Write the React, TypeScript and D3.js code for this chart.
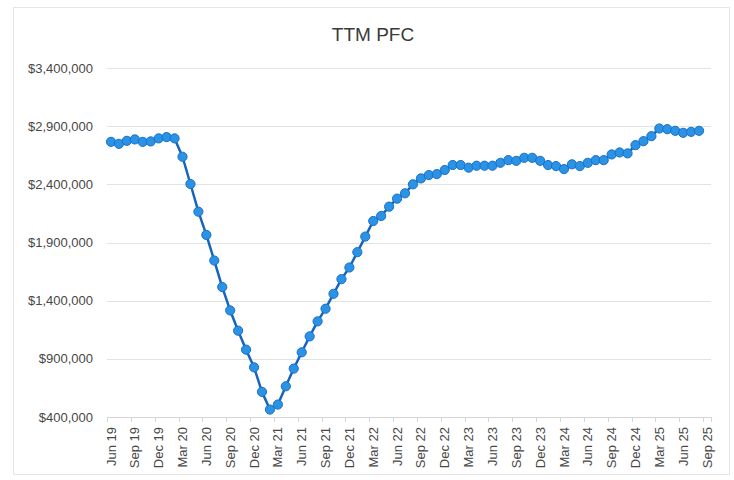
import React, { useEffect, useRef } from 'react';
import * as d3 from 'd3';

// monthly TTM PFC, Jun 19 .. Aug 25 (Sep 25 category has no value yet)
const months = d3.timeMonth
  .range(new Date(2019, 5, 1), new Date(2025, 9, 1))
  .map(d => d3.timeFormat('%b %y')(d));

const values = [
  2765000, 2748000, 2774000, 2786000, 2765000, 2769000, 2795000, 2806000, 2795000, 2637000,
  2403000, 2165000, 1965000, 1745000, 1517000, 1316000, 1142000, 979000, 827000, 616000,
  464000, 507000, 664000, 816000, 956000, 1093000, 1222000, 1331000, 1459000, 1585000,
  1685000, 1817000, 1951000, 2085000, 2128000, 2208000, 2277000, 2323000, 2400000, 2451000,
  2480000, 2488000, 2523000, 2566000, 2566000, 2543000, 2560000, 2560000, 2560000, 2585000,
  2608000, 2602000, 2628000, 2628000, 2602000, 2566000, 2557000, 2531000, 2572000, 2557000,
  2585000, 2608000, 2608000, 2657000, 2674000, 2666000, 2737000, 2771000, 2814000, 2880000,
  2874000, 2860000, 2843000, 2851000, 2860000
];

const tickLabels = [
  'Jun 19', 'Sep 19', 'Dec 19', 'Mar 20', 'Jun 20', 'Sep 20', 'Dec 20', 'Mar 21', 'Jun 21',
  'Sep 21', 'Dec 21', 'Mar 22', 'Jun 22', 'Sep 22', 'Dec 22', 'Mar 23', 'Jun 23', 'Sep 23',
  'Dec 23', 'Mar 24', 'Jun 24', 'Sep 24', 'Dec 24', 'Mar 25', 'Jun 25', 'Sep 25'
];

const yTicks = [400000, 900000, 1400000, 1900000, 2400000, 2900000, 3400000];

const App = () => {
  const svgRef = useRef(null);

  useEffect(() => {
    const width = 734;
    const height = 480;
    const left = 107;
    const right = 711;
    const top = 68;
    const bottom = 417;
    const font = '"Liberation Sans", Arial, sans-serif';

    const svg = d3.select(svgRef.current);
    svg.selectAll('*').remove();
    svg.attr('width', width).attr('height', height);

    svg.append('rect')
      .attr('x', 0).attr('y', 0).attr('width', width).attr('height', height)
      .attr('fill', '#fff');

    // outer chart border
    svg.append('rect')
      .attr('x', 13.5).attr('y', 7.5).attr('width', 716).attr('height', 467)
      .attr('fill', 'none')
      .attr('stroke', '#e6e6e6');

    const xScale = d3.scaleBand()
      .domain(months)
      .range([left, right])
      .padding(0);

    const yScale = d3.scaleLinear()
      .domain([400000, 3400000])
      .range([bottom, top]);

    svg.append('text')
      .attr('x', 373)
      .attr('y', 41)
      .attr('text-anchor', 'middle')
      .style('font-family', font)
      .style('font-size', '19px')
      .attr('fill', '#3a3a3a')
      .text('TTM PFC');

    // gridlines + y labels
    const grid = svg.append('g');
    grid.selectAll('line')
      .data(yTicks.slice(1))
      .enter()
      .append('line')
      .attr('x1', left).attr('x2', right)
      .attr('y1', d => Math.round(yScale(d)) + 0.5)
      .attr('y2', d => Math.round(yScale(d)) + 0.5)
      .attr('stroke', '#e2e2e2');

    grid.selectAll('text')
      .data(yTicks)
      .enter()
      .append('text')
      .attr('x', 93)
      .attr('y', d => yScale(d))
      .attr('dy', '0.35em')
      .attr('text-anchor', 'end')
      .style('font-family', font)
      .style('font-size', '13px')
      .attr('fill', '#474747')
      .text(d => d3.format('$,')(d));

    // x axis line and tick marks between categories
    const axis = svg.append('g');
    axis.append('line')
      .attr('x1', left).attr('x2', right)
      .attr('y1', bottom + 0.5).attr('y2', bottom + 0.5)
      .attr('stroke', '#d4d4d4');

    const tickIdx = months.map((m, i) => i).filter(i => i % 3 === 0);
    axis.selectAll('.tick')
      .data(tickIdx.concat([months.length]))
      .enter()
      .append('line')
      .attr('x1', i => Math.round(i < months.length ? xScale(months[i]) : right) + 0.5)
      .attr('x2', i => Math.round(i < months.length ? xScale(months[i]) : right) + 0.5)
      .attr('y1', bottom).attr('y2', bottom + 5)
      .attr('stroke', '#d4d4d4');

    axis.selectAll('.lbl')
      .data(tickIdx)
      .enter()
      .append('text')
      .attr('transform', i =>
        `translate(${xScale(months[i]) + xScale.bandwidth() / 2}, 427) rotate(-90)`)
      .attr('dy', '0.35em')
      .attr('text-anchor', 'end')
      .style('font-family', font)
      .style('font-size', '13px')
      .attr('fill', '#474747')
      .text((i, k) => tickLabels[k]);

    const pts = values.map((v, i) => ({
      x: xScale(months[i]) + xScale.bandwidth() / 2,
      y: yScale(v)
    }));

    const line = d3.line().x(d => d.x).y(d => d.y);

    svg.append('path')
      .datum(pts)
      .attr('d', line)
      .attr('fill', 'none')
      .attr('stroke', '#1565c0')
      .attr('stroke-width', 2.5)
      .attr('stroke-linejoin', 'round');

    svg.append('g')
      .selectAll('circle')
      .data(pts)
      .enter()
      .append('circle')
      .attr('cx', d => d.x)
      .attr('cy', d => d.y)
      .attr('r', 4.6)
      .attr('fill', '#2b93e6')
      .attr('stroke', '#1b6fc6')
      .attr('stroke-width', 1);
  }, []);

  return (
    <svg ref={svgRef} style={{ position: 'absolute', left: 0, top: 0, display: 'block' }}></svg>
  );
};

export default App;
